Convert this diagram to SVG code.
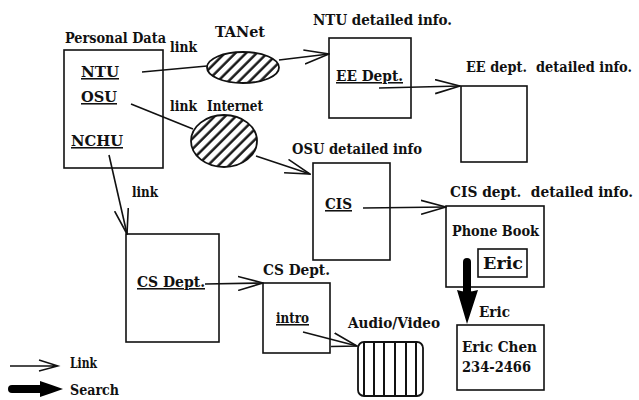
<svg xmlns="http://www.w3.org/2000/svg" width="639" height="400" viewBox="0 0 639 400">
<defs>
<style>
text{font-family:"DejaVu Serif Condensed","DejaVu Serif","Liberation Serif",serif;font-stretch:condensed;font-size:15.5px;font-weight:bold;fill:#111}
.u{text-decoration:underline}
.sm{font-size:14px}
.box{fill:none;stroke:#111;stroke-width:1.6}
.ln{fill:none;stroke:#111;stroke-width:1.6}
.hat{fill:url(#hatch);stroke:#111;stroke-width:1.8}
</style>
<pattern id="hatch" width="7.5" height="7.5" patternUnits="userSpaceOnUse" patternTransform="rotate(45)">
<rect width="7.5" height="7.5" fill="#fff"/>
<line x1="1.5" y1="0" x2="1.5" y2="7.5" stroke="#111" stroke-width="2.4"/>
</pattern>
<marker id="open" viewBox="0 0 26 16" refX="25" refY="8" markerWidth="26" markerHeight="16" markerUnits="userSpaceOnUse" orient="auto">
<path d="M0,1 L25,8 L0,15" fill="none" stroke="#111" stroke-width="1.6"/>
</marker>
</defs>
<rect width="639" height="400" fill="#fff"/>

<g id="personal">
<rect class="box" x="64" y="50" width="99" height="118"/>
<text x="65" y="43" textLength="101" lengthAdjust="spacingAndGlyphs">Personal Data</text>
<text class="u" x="81" y="77" textLength="38" lengthAdjust="spacingAndGlyphs">NTU</text>
<text class="u" x="81" y="102" textLength="36" lengthAdjust="spacingAndGlyphs">OSU</text>
<text class="u" x="71" y="146" textLength="52" lengthAdjust="spacingAndGlyphs">NCHU</text>
</g>

<g id="tanet">
<ellipse class="hat" cx="243" cy="67.5" rx="36" ry="15.5"/>
<text x="215" y="37" textLength="50" lengthAdjust="spacingAndGlyphs">TANet</text>
</g>

<g id="internet">
<ellipse class="hat" cx="224" cy="141" rx="33" ry="26"/>
<text x="207" y="111" textLength="56" lengthAdjust="spacingAndGlyphs">Internet</text>
</g>

<g id="ntu">
<text x="313" y="25" textLength="139" lengthAdjust="spacingAndGlyphs">NTU detailed info.</text>
<rect class="box" x="329" y="38" width="82" height="80"/>
<text class="u" x="336" y="81" textLength="67" lengthAdjust="spacingAndGlyphs">EE Dept.</text>
</g>

<g id="ee">
<text class="sm" x="466" y="72" textLength="166" lengthAdjust="spacingAndGlyphs">EE dept.&#160; detailed info.</text>
<rect class="box" x="461" y="86" width="66" height="76"/>
</g>

<g id="osu">
<text x="292" y="154" textLength="130" lengthAdjust="spacingAndGlyphs">OSU detailed info</text>
<rect class="box" x="313" y="163" width="77" height="97"/>
<text class="u" x="325" y="209" textLength="27" lengthAdjust="spacingAndGlyphs">CIS</text>
</g>

<g id="cis">
<text class="sm" x="450" y="197" textLength="183" lengthAdjust="spacingAndGlyphs">CIS dept.&#160; detailed info.</text>
<rect class="box" x="446" y="206" width="98" height="81"/>
<text x="452" y="236" textLength="87" lengthAdjust="spacingAndGlyphs">Phone Book</text>
<rect class="box" x="478" y="249" width="49" height="28"/>
<text x="483" y="269" style="font-size:16.5px" textLength="40" lengthAdjust="spacingAndGlyphs">Eric</text>
</g>

<g id="ericchen">
<rect class="box" x="457" y="325" width="87" height="65"/>
<text x="462" y="352" textLength="75" lengthAdjust="spacingAndGlyphs">Eric Chen</text>
<text x="462" y="372" textLength="69" lengthAdjust="spacingAndGlyphs">234-2466</text>
</g>

<g id="csdept">
<rect class="box" x="126" y="234" width="93" height="108"/>
<text class="u" x="137" y="287" textLength="68" lengthAdjust="spacingAndGlyphs">CS Dept.</text>
</g>

<g id="csintro">
<text x="263" y="275" textLength="67" lengthAdjust="spacingAndGlyphs">CS Dept.</text>
<rect class="box" x="263" y="283" width="67" height="70"/>
<text class="u" x="276" y="323" textLength="33" lengthAdjust="spacingAndGlyphs">intro</text>
</g>

<g id="av">
<text x="348" y="328" textLength="92" lengthAdjust="spacingAndGlyphs">Audio/Video</text>
<rect x="358" y="342" width="65" height="54" rx="6" fill="#fff" stroke="#111" stroke-width="1.8"/>
<g stroke="#111" stroke-width="2">
<line x1="364" y1="343" x2="364" y2="395"/>
<line x1="374" y1="343" x2="374" y2="395"/>
<line x1="384" y1="343" x2="384" y2="395"/>
<line x1="395" y1="343" x2="395" y2="395"/>
<line x1="406" y1="343" x2="406" y2="395"/>
<line x1="416" y1="343" x2="416" y2="395"/>
</g>
</g>

<g id="connectors">
<line class="ln" x1="142" y1="72" x2="207" y2="66"/>
<text x="170" y="52" textLength="27" lengthAdjust="spacingAndGlyphs">link</text>
<line class="ln" x1="279" y1="60" x2="329" y2="54" marker-end="url(#open)"/>
<line class="ln" x1="131" y1="104" x2="193" y2="129"/>
<text x="170" y="111" textLength="27" lengthAdjust="spacingAndGlyphs">link</text>
<line class="ln" x1="256" y1="156" x2="310" y2="174" marker-end="url(#open)"/>
<line class="ln" x1="379" y1="88" x2="460" y2="86" marker-end="url(#open)"/>
<line class="ln" x1="363" y1="208" x2="446" y2="207" marker-end="url(#open)"/>
<line class="ln" x1="109" y1="155" x2="127" y2="234" marker-end="url(#open)"/>
<text x="132" y="197" textLength="26" lengthAdjust="spacingAndGlyphs">link</text>
<line class="ln" x1="205" y1="284" x2="263" y2="283" marker-end="url(#open)"/>
<line class="ln" x1="303" y1="332" x2="357" y2="346" marker-end="url(#open)"/>
<g id="search">
<line x1="467" y1="262" x2="467" y2="295" stroke="#000" stroke-width="8" stroke-linecap="round"/>
<path d="M457,290 Q467,293 478,290 L467,324 Z" fill="#000"/>
</g>
<text x="479" y="317" textLength="31" lengthAdjust="spacingAndGlyphs">Eric</text>
</g>

<g id="legend">
<path d="M10,366 L58,366 M39,360 L58,366 L39,371" fill="none" stroke="#111" stroke-width="1.4"/>
<text x="70" y="368" textLength="27" lengthAdjust="spacingAndGlyphs">Link</text>
<line x1="12" y1="389" x2="44" y2="389" stroke="#000" stroke-width="8" stroke-linecap="round"/>
<path d="M40,381 Q52,385 63,389 Q52,393 40,397 Z" fill="#000"/>
<text x="70" y="395" textLength="49" lengthAdjust="spacingAndGlyphs">Search</text>
</g>
</svg>
